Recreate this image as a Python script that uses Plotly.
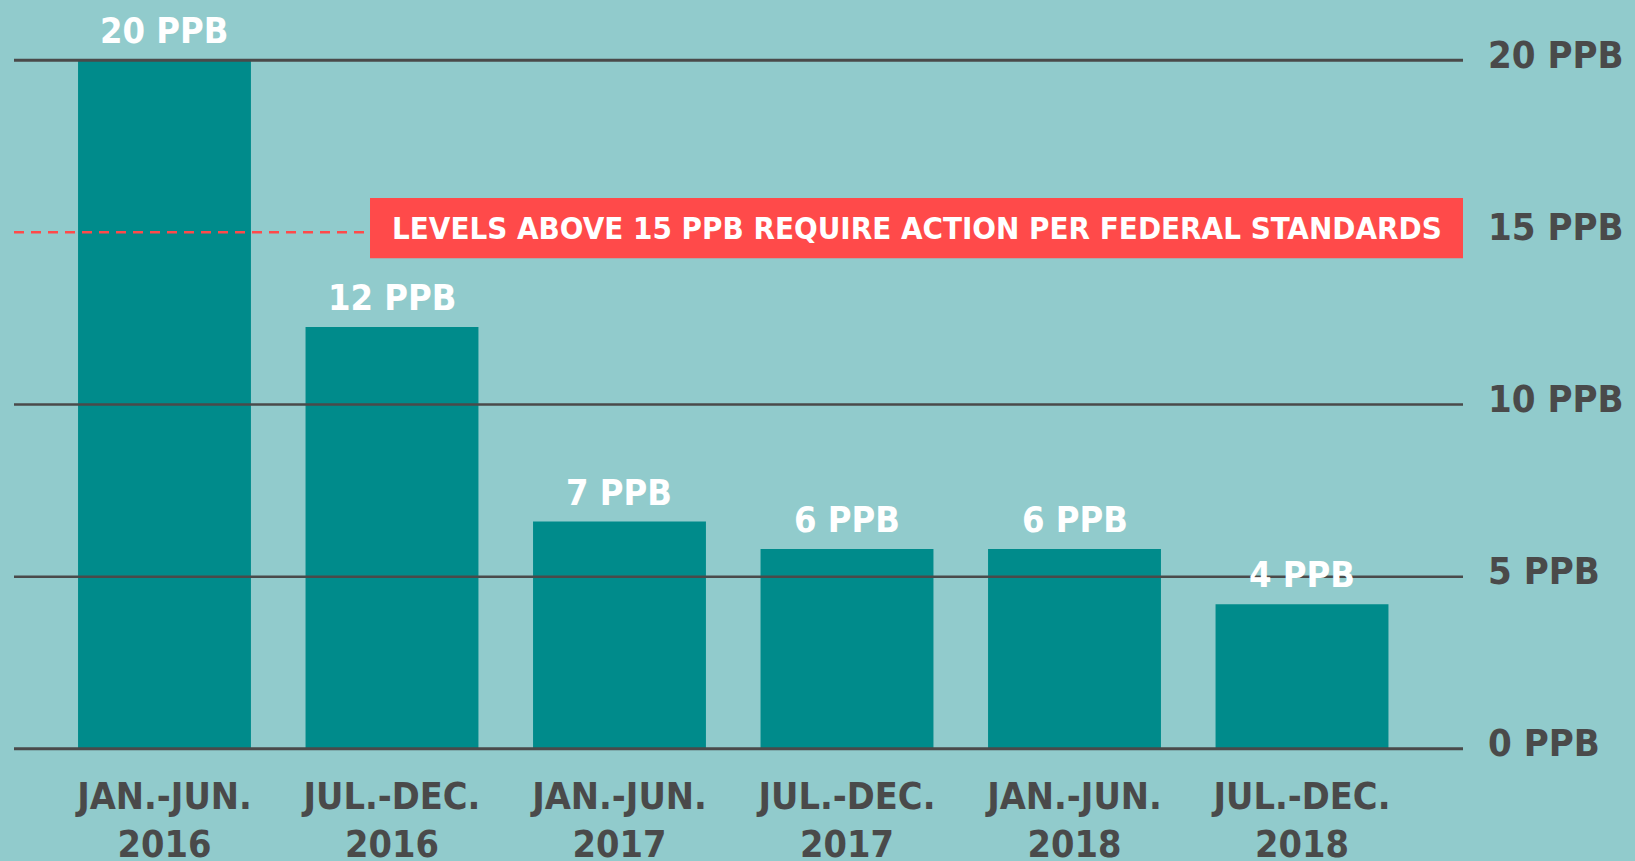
import plotly.graph_objects as go

# ---- data ----
periods = ["JAN.-JUN.|2016", "JUL.-DEC.|2016", "JAN.-JUN.|2017",
           "JUL.-DEC.|2017", "JAN.-JUN.|2018", "JUL.-DEC.|2018"]
lead_ppb = [20.0, 12.25, 6.6, 5.8, 5.8, 4.2]
value_labels = ["20 PPB", "12 PPB", "7 PPB", "6 PPB", "6 PPB", "4 PPB"]
y_tick_vals = [0, 5, 10, 15, 20]
y_tick_text = ["0 PPB", "5 PPB", "10 PPB", "15 PPB", "20 PPB"]
grid_vals = [0, 5, 10, 20]
action_level = 15
action_text = "LEVELS ABOVE 15 PPB REQUIRE ACTION PER FEDERAL STANDARDS"

# ---- style ----
BG = "#91CBCC"
BAR = "#008B8B"
RED = "#FF4A4A"
INK = "#4A4A4A"
FONT = "Liberation Sans Narrow, Arial Narrow, DejaVu Sans Condensed, sans-serif"

cat_text = [p.split("|")[0] + "<br>" + p.split("|")[1] for p in periods]

fig = go.Figure()
fig.add_trace(go.Bar(
    x=periods, y=lead_ppb, marker=dict(color=BAR, line=dict(width=0)),
    hoverinfo="skip",
))

# gridlines drawn above bars (as in the reference)
for g in grid_vals:
    fig.add_shape(type="line", xref="x domain", yref="y", x0=0, x1=1, y0=g, y1=g,
                  line=dict(color=INK, width=3 if g in (0, 20) else 2.5), layer="above")

# dashed action line and red banner
box_left = 0.2457
fig.add_shape(type="line", xref="x domain", yref="y", x0=0, x1=box_left,
              y0=action_level, y1=action_level,
              line=dict(color=RED, width=2.5, dash="10px,7px"), layer="above")
fig.add_shape(type="rect", xref="x domain", yref="y", x0=box_left, x1=1,
              y0=action_level - 0.75, y1=action_level + 1.0,
              fillcolor=RED, line=dict(width=0), layer="above")
fig.add_annotation(xref="x domain", yref="y", x=(box_left + 1) / 2, y=action_level + 0.125,
                   text=action_text, showarrow=False,
                   font=dict(family=FONT, size=31, color="white", weight="bold"),
                   xanchor="center", yanchor="middle")

# value labels above bars
for p, v, t in zip(periods, lead_ppb, value_labels):
    fig.add_annotation(x=p, y=v, text=t, showarrow=False,
                       xanchor="center", yanchor="bottom", yshift=7,
                       font=dict(family=FONT, size=36, color="white", weight="bold"))

fig.update_layout(
    width=1635, height=861,
    paper_bgcolor=BG, plot_bgcolor=BG,
    margin=dict(l=14, r=172, t=43, b=95, autoexpand=False),
    bargap=0.24, showlegend=False,
    font=dict(family=FONT, color=INK),
)
fig.update_xaxes(
    type="category", range=[-0.6615, 5.7077],
    tickvals=periods, ticktext=cat_text,
    tickfont=dict(family=FONT, size=37.5, color=INK, weight="bold"),
    showgrid=False, zeroline=False, showline=False, ticks="",
    ticklabelstandoff=4, automargin=False,
)
fig.update_yaxes(
    range=[-0.5, 20.5], side="right",
    tickvals=y_tick_vals, ticktext=y_tick_text,
    tickfont=dict(family=FONT, size=38, color=INK, weight="bold"),
    showgrid=False, zeroline=False, showline=False, ticks="",
    ticklabelstandoff=24, ticklabelshift=-6, automargin=False,
)

fig.write_html("out.html", config={"displayModeBar": False},
               post_script="document.body.style.margin='0';")
